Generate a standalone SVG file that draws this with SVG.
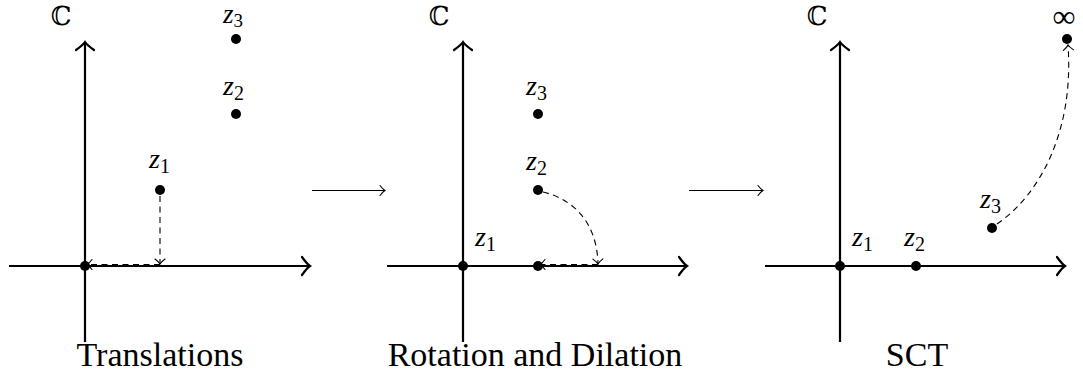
<svg xmlns="http://www.w3.org/2000/svg" width="1083" height="385" viewBox="0 0 1083 385">
<style>
.axis{stroke:#000;stroke-width:2.2;fill:none}
.dash{stroke:#000;stroke-width:1.1;fill:none;stroke-dasharray:6 4.5}
.map{stroke:#000;stroke-width:1.1;fill:none}
.dot{fill:#000}
</style>
<defs>
<marker id="ax" markerUnits="userSpaceOnUse" markerWidth="24" markerHeight="24" viewBox="-12 -12 24 24" refX="0" refY="0" orient="auto">
<path d="M-8,-9 Q-3,-2 0,0 Q-3,2 -8,9" fill="none" stroke="#000" stroke-width="2.2" stroke-linecap="round"/>
</marker>
<marker id="sm" markerUnits="userSpaceOnUse" markerWidth="16" markerHeight="16" viewBox="-8 -8 16 16" refX="0" refY="0" orient="auto">
<path d="M-5,-5 Q-2,-1 0,0 Q-2,1 -5,5" fill="none" stroke="#000" stroke-width="1.1" stroke-linecap="round"/>
</marker>
</defs>

<g font-family="Liberation Serif, serif">
<g id="panel1">
<line class="axis" x1="9" y1="266" x2="310" y2="266" marker-end="url(#ax)"/>
<line class="axis" x1="85" y1="342" x2="85" y2="42" marker-end="url(#ax)"/>
<text font-family="DejaVu Serif, serif" font-size="26" text-anchor="middle" x="61" y="25">ℂ</text>
<circle class="dot" cx="85" cy="266" r="5"/>
<circle class="dot" cx="160" cy="190" r="5"/>
<circle class="dot" cx="236" cy="114" r="5"/>
<circle class="dot" cx="236" cy="39" r="5"/>
<text font-style="italic" font-size="28" x="149" y="168">z<tspan font-style="normal" font-size="20" dy="5">1</tspan></text>
<text font-style="italic" font-size="28" x="223" y="95">z<tspan font-style="normal" font-size="20" dy="5">2</tspan></text>
<text font-style="italic" font-size="27" x="223" y="23">z<tspan font-style="normal" font-size="19" dy="4">3</tspan></text>
<text font-size="34" text-anchor="middle" x="160" y="366">Translations</text>
</g>

<g id="panel2">
<line class="axis" x1="387" y1="266" x2="687" y2="266" marker-end="url(#ax)"/>
<line class="axis" x1="463" y1="342" x2="463" y2="42" marker-end="url(#ax)"/>
<text font-family="DejaVu Serif, serif" font-size="26" text-anchor="middle" x="439" y="25">ℂ</text>
<circle class="dot" cx="463" cy="266" r="5"/>
<circle class="dot" cx="538" cy="266" r="5"/>
<circle class="dot" cx="538" cy="190" r="5"/>
<circle class="dot" cx="538" cy="114" r="5"/>
<text font-style="italic" font-size="28" x="475" y="246">z<tspan font-style="normal" font-size="20" dy="5">1</tspan></text>
<text font-style="italic" font-size="28" x="526" y="170">z<tspan font-style="normal" font-size="20" dy="5">2</tspan></text>
<text font-style="italic" font-size="28" x="526" y="95">z<tspan font-style="normal" font-size="20" dy="5">3</tspan></text>
<text font-size="34" text-anchor="middle" x="535" y="366">Rotation and Dilation</text>
</g>

<g id="panel3">
<line class="axis" x1="765" y1="266" x2="1065" y2="266" marker-end="url(#ax)"/>
<line class="axis" x1="840" y1="342" x2="840" y2="42" marker-end="url(#ax)"/>
<text font-family="DejaVu Serif, serif" font-size="26" text-anchor="middle" x="817" y="25">ℂ</text>
<circle class="dot" cx="840" cy="266" r="5"/>
<circle class="dot" cx="916" cy="266" r="5"/>
<circle class="dot" cx="992" cy="228" r="5"/>
<circle class="dot" cx="1067" cy="39" r="5"/>
<text font-style="italic" font-size="28" x="852" y="246">z<tspan font-style="normal" font-size="20" dy="5">1</tspan></text>
<text font-style="italic" font-size="28" x="904" y="246">z<tspan font-style="normal" font-size="20" dy="5">2</tspan></text>
<text font-style="italic" font-size="28" x="980" y="208">z<tspan font-style="normal" font-size="20" dy="5">3</tspan></text>
<text font-size="32" text-anchor="middle" x="1064" y="27">∞</text>
<text font-size="34" text-anchor="middle" x="917" y="366">SCT</text>
</g>
</g>

<g id="connectors">
<line class="dash" x1="160" y1="196" x2="160" y2="264" marker-end="url(#sm)"/>
<line class="dash" x1="160" y1="264.5" x2="87" y2="264.5" marker-end="url(#sm)"/>
<path class="dash" d="M543,192 C572,199 597,221 598,264" marker-end="url(#sm)"/>
<line class="dash" x1="598" y1="264.5" x2="540" y2="264.5" marker-end="url(#sm)"/>
<path class="dash" d="M997,224 C1042,193 1074,128 1068,45" marker-end="url(#sm)"/>
<line class="map" x1="312" y1="190.5" x2="385" y2="190.5" marker-end="url(#sm)"/>
<line class="map" x1="689" y1="190.5" x2="763" y2="190.5" marker-end="url(#sm)"/>
</g>
</svg>
